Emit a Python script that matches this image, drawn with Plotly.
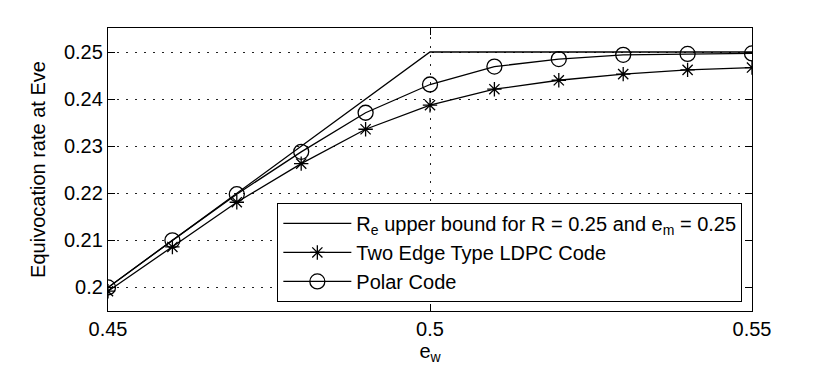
"""
Equivocation rate at Eve vs e_w - recreated with Plotly
"""
import plotly.graph_objects as go

# 数据
e_w = [0.45, 0.46, 0.47, 0.48, 0.49, 0.50, 0.51, 0.52, 0.53, 0.54, 0.55]
upper_bound = [0.20, 0.21, 0.22, 0.23, 0.24, 0.25, 0.25, 0.25, 0.25, 0.25, 0.25]
ldpc = [0.1992, 0.2086, 0.2181, 0.2263, 0.2336, 0.2387, 0.2421, 0.2440, 0.2453, 0.2462, 0.2467]
polar = [0.2000, 0.2100, 0.2198, 0.2288, 0.2371, 0.2431, 0.2469, 0.2485, 0.2494, 0.2496, 0.2497]

x_ticks = [0.45, 0.5, 0.55]
x_tick_text = ['0.45', '0.5', '0.55']
y_ticks = [0.20, 0.21, 0.22, 0.23, 0.24, 0.25]
y_tick_text = ['0.2', '0.21', '0.22', '0.23', '0.24', '0.25']

FONT = 'Liberation Sans'
FS = 20

fig = go.Figure()

fig.add_trace(go.Scatter(
    x=e_w, y=upper_bound,
    mode='lines',
    name='R<sub>e</sub> upper bound for R = 0.25 and e<sub>m</sub> = 0.25',
    line=dict(color='black', width=1.3)
))

fig.add_trace(go.Scatter(
    x=e_w, y=ldpc,
    mode='lines+markers',
    name='Two Edge Type LDPC Code',
    line=dict(color='black', width=1.3),
    marker=dict(symbol='asterisk-open', size=12, color='black',
                line=dict(color='black', width=1.3))
))

fig.add_trace(go.Scatter(
    x=e_w, y=polar,
    mode='lines+markers',
    name='Polar Code',
    line=dict(color='black', width=1.3),
    marker=dict(symbol='circle-open', size=15, color='black',
                line=dict(color='black', width=1.3))
))

axis_common = dict(
    showline=True, linecolor='black', linewidth=1.3,
    mirror='allticks', ticks='inside', ticklen=7, tickcolor='black',
    showgrid=True, gridcolor='#222222', griddash='1.5px,7.5px', gridwidth=1.2,
    zeroline=False,
    tickfont=dict(family=FONT, size=FS, color='black'),
)

fig.update_xaxes(
    range=[0.45, 0.55], tickvals=x_ticks, ticktext=x_tick_text,
    title=dict(text='e<sub>w</sub>', font=dict(family=FONT, size=FS, color='black'), standoff=4),
    **axis_common
)
fig.update_yaxes(
    range=[0.195, 0.2551], tickvals=y_ticks, ticktext=y_tick_text,
    title=dict(text='Equivocation rate at Eve', font=dict(family=FONT, size=FS, color='black'), standoff=12),
    **axis_common
)

# 页面 body 默认有 8px 边距, 这里把图缩小相应尺寸
fig.update_layout(
    width=823, height=366,
    margin=dict(l=100, r=79, t=20, b=63),
    plot_bgcolor='white', paper_bgcolor='white',
    font=dict(family=FONT, size=FS, color='black'),
    showlegend=True,
    legend=dict(
        x=0.985, y=0.032, xanchor='right', yanchor='bottom',
        bgcolor='white', bordercolor='black', borderwidth=1,
        font=dict(family=FONT, size=FS, color='black'),
        tracegroupgap=0, itemwidth=68,
    ),
)

fig.write_html("out.html")
